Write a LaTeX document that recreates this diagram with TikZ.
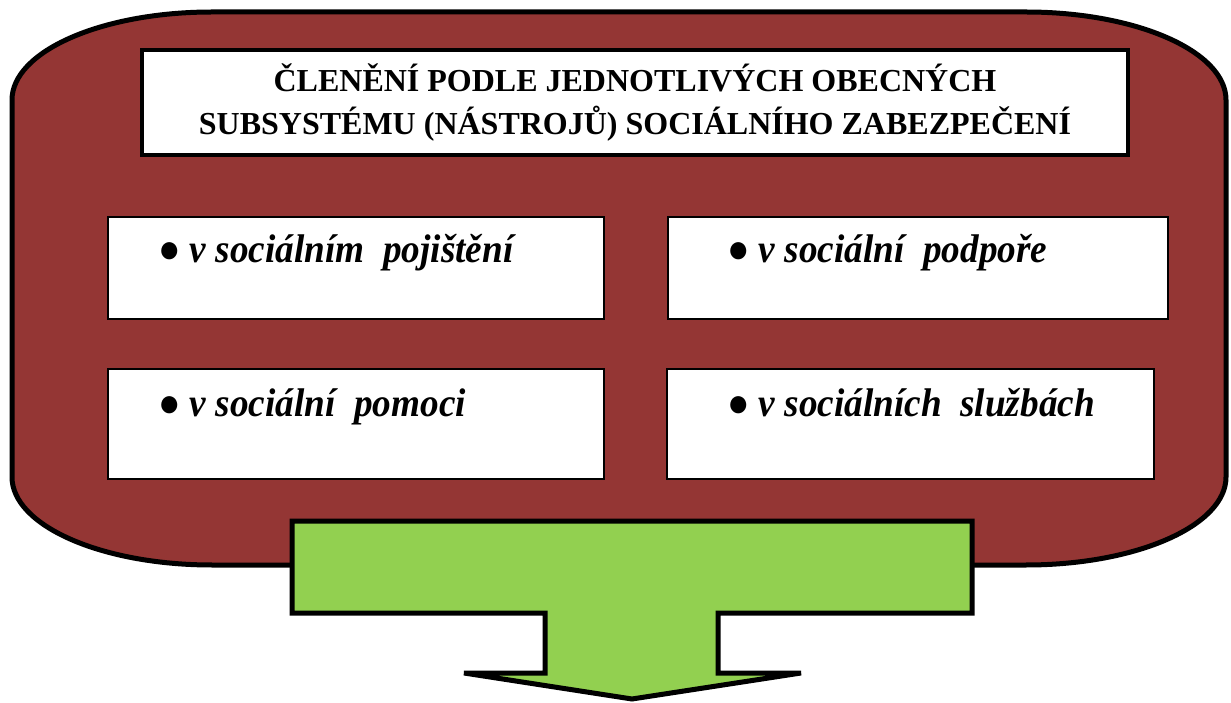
\documentclass[tikz,border=0pt]{standalone}
\usepackage{fontspec}
\setmainfont{Liberation Serif}
\newfontfamily\itemfont[FakeStretch=0.93]{Liberation Serif}
\usepackage{tikz}

\definecolor{framered}{HTML}{943634}
\definecolor{arrowgreen}{HTML}{92D050}

\begin{document}
\begin{tikzpicture}[x=1pt,y=1pt,
	itembox/.style={shape=rectangle,draw=black,fill=white,line width=1.5pt,inner sep=0pt,outer sep=0pt,minimum width=496pt},
	itemtext/.style={anchor=base west,inner sep=0pt,font=\itemfont\fontsize{40}{44}\selectfont\bfseries}]
	
	\useasboundingbox (0,0) rectangle (1231,702);
	
	% big frame
	\draw[fill=framered,line width=5pt] (212,690) -- (1026,690)
		arc[start angle=90,end angle=0,x radius=200,y radius=88] -- (1226,225)
		arc[start angle=0,end angle=-90,x radius=200,y radius=88] -- (212,137)
		arc[start angle=-90,end angle=-180,x radius=200,y radius=88] -- (12,602)
		arc[start angle=180,end angle=90,x radius=200,y radius=88] -- cycle;
	
	\node[shape=rectangle,draw=black,fill=white,line width=4pt,inner sep=0pt,minimum width=986pt,minimum height=105pt,align=center,font=\fontsize{32}{43}\selectfont\bfseries] (title) at (635, 599.5)
		{ČLENĚNÍ PODLE JEDNOTLIVÝCH OBECNÝCH\\SUBSYSTÉMU (NÁSTROJŮ) SOCIÁLNÍHO ZABEZPEČENÍ};
	
	\node[itembox,minimum height=102pt] (b1) at (356, 434) {};
	\node[itembox,minimum height=102pt,minimum width=500pt] (b2) at (918, 434) {};
	\node[itembox,minimum height=110pt] (b3) at (356, 278) {};
	\node[itembox,minimum height=110pt,minimum width=487pt] (b4) at (910.5, 278) {};
	
	\node[itemtext] (t1) at (158, 439) {● \textit{v sociálním\ \ pojištění}};
	\node[itemtext] (t2) at (727, 439) {● \textit{v sociální\ \ podpoře}};
	\node[itemtext] (t3) at (158, 285) {● \textit{v sociální\ \ pomoci}};
	\node[itemtext] (t4) at (727, 285) {● \textit{v sociálních\ \ službách}};
	
	% arrow down
	\draw[fill=arrowgreen,line width=5pt] (292,181) -- (972,181) -- (972,89) -- (718,89) -- (718,29)
		-- (801,29) -- (632,3) -- (464,29) -- (545,29) -- (545,89) -- (292,89) -- cycle;
	
\end{tikzpicture}
\end{document}
